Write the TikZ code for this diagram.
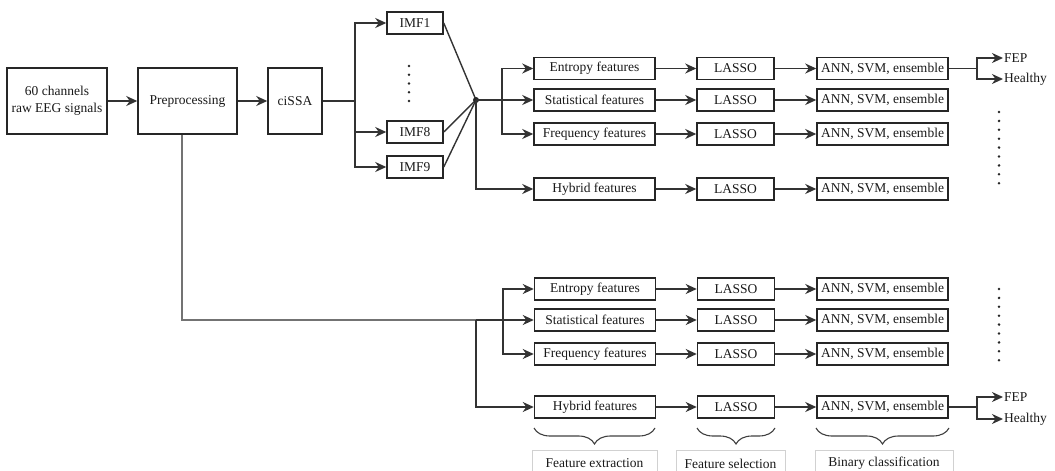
\documentclass[tikz,border=0pt]{standalone}
\usepackage{fontspec}
\setmainfont{Liberation Serif}
\usetikzlibrary{arrows.meta,decorations.pathreplacing}
\begin{document}
\begin{tikzpicture}[x=1pt,y=-1pt,
  box/.style={draw=black!85, line width=1.5pt, inner sep=0pt, font=\fontsize{13.5}{17}\selectfont, align=center, text=black!90},
  rowbox/.style={box, minimum height=22pt},
  conn/.style={draw=black!80, line width=1.4pt},
  arr/.style={conn, -{Stealth[length=11pt,width=10pt,inset=3.5pt]}},
  graycon/.style={draw=black!55, line width=1.4pt},
  lab/.style={inner sep=1pt, font=\fontsize{13.5}{16}\selectfont, text=black!90},
  labbox/.style={draw=black!18, line width=0.9pt, inner sep=0pt, minimum height=26pt, font=\fontsize{13.5}{16}\selectfont, text=black!90},
  bracedec/.style={draw=black!75, line width=1.1pt, decorate, decoration={brace, amplitude=16pt}},
  dotfill/.style={fill=black!85}]
\useasboundingbox (0,0) rectangle (1055,471);

% left chain
\node[box, minimum width=100pt, minimum height=66pt] (raw) at (57,101) {60 channels\\raw EEG signals};
\node[box, minimum width=99pt, minimum height=66pt] (pre) at (187.5,101) {Preprocessing};
\node[box, minimum width=54pt, minimum height=66pt] (cissa) at (295,101) {ciSSA};
\draw[arr] (raw) -- (pre);
\draw[arr] (pre) -- (cissa);

% IMFs
\node[rowbox, minimum width=56pt] (imf1) at (415,23) {IMF1};
\node[rowbox, minimum width=56pt] (imf8) at (415,132) {IMF8};
\node[rowbox, minimum width=56pt] (imf9) at (415,167) {IMF9};
\coordinate (s) at (355,101);
\draw[conn] (cissa.east |- s) -- (s);
\draw[arr] (s) |- (imf1);
\draw[arr] (s) |- (imf8);
\draw[arr] (s) |- (imf9);
\foreach \i in {0,...,4} \fill[dotfill] (409,{66+\i*8.75}) circle (1.4pt);

% junction
\coordinate (J) at (476,100);
\draw[conn] (imf1.east) -- (J);
\draw[conn] (imf8.east) -- (J);
\draw[conn] (imf9.east) -- (J);
\fill[dotfill] (J) circle (3pt);

% rows
\foreach \r/\yy/\t in {E/68.5/Entropy features,S/100/Statistical features,F/134/Frequency features,H/189/Hybrid features}{
  \node[rowbox, minimum width=121pt] (t\r) at (594.5,\yy) {\t};
  \node[rowbox, minimum width=77pt] (tl\r) at (735.5,\yy) {LASSO};
  \node[rowbox, minimum width=131pt] (tc\r) at (882.5,\yy) {ANN, SVM, ensemble};
  \draw[arr] (t\r) -- (tl\r);
  \draw[arr] (tl\r) -- (tc\r);
}
\foreach \r/\yy/\t in {E/289/Entropy features,S/320/Statistical features,F/354/Frequency features,H/407/Hybrid features}{
  \node[rowbox, minimum width=121pt] (b\r) at (595,\yy) {\t};
  \node[rowbox, minimum width=77pt] (bl\r) at (736,\yy) {LASSO};
  \node[rowbox, minimum width=131pt] (bc\r) at (882.5,\yy) {ANN, SVM, ensemble};
  \draw[arr] (b\r) -- (bl\r);
  \draw[arr] (bl\r) -- (bc\r);
}

% top branching
\coordinate (tb) at (502,100);
\draw[arr] (J) -- (tS);
\draw[arr] (tb) |- (tE);
\draw[arr] (tb) |- (tF);
\draw[arr] (J) |- (tH);

% bottom branching
\coordinate (bb) at (476,320);
\coordinate (bb2) at (503,320);
\draw[graycon] ([xshift=-5.5pt]pre.south) |- (bb);
\draw[arr] (bb) -- (bS);
\draw[arr] (bb2) |- (bE);
\draw[arr] (bb2) |- (bF);
\draw[arr] (bb) |- (bH);

% outputs top
\coordinate (fk) at (977,68.5);
\node[lab, anchor=west] (fep1) at (1003,58) {FEP};
\node[lab, anchor=west] (hea1) at (1003,79) {Healthy};
\draw[conn] (tcE) -- (fk);
\draw[arr] (fk) |- (fep1.west);
\draw[arr] (fk) |- (hea1.west);
% outputs bottom
\coordinate (fk2) at (977,407);
\node[lab, anchor=west] (fep2) at (1003,397) {FEP};
\node[lab, anchor=west] (hea2) at (1003,419) {Healthy};
\draw[conn] (bcH) -- (fk2);
\draw[arr] (fk2) |- (fep2.west);
\draw[arr] (fk2) |- (hea2.west);

% vertical dots right
\foreach \i in {0,...,8} \fill[dotfill] (999,{112+\i*8.9}) circle (1.4pt);
\foreach \i in {0,...,8} \fill[dotfill] (999,{289+\i*8.9}) circle (1.4pt);

% braces
\draw[bracedec] (655,428) -- (534,428);
\draw[bracedec] (775,428) -- (697,428);
\draw[bracedec] (949,428) -- (816,428);

% stage labels
\node[labbox, minimum width=125pt, anchor=north] (lfe) at (594.5,450) {Feature extraction};
\node[labbox, minimum width=109pt, anchor=north] (lfs) at (730.5,450) {Feature selection};
\node[labbox, minimum width=138pt, anchor=north] (lbc) at (884,450) {Binary classification};
\end{tikzpicture}
\end{document}
